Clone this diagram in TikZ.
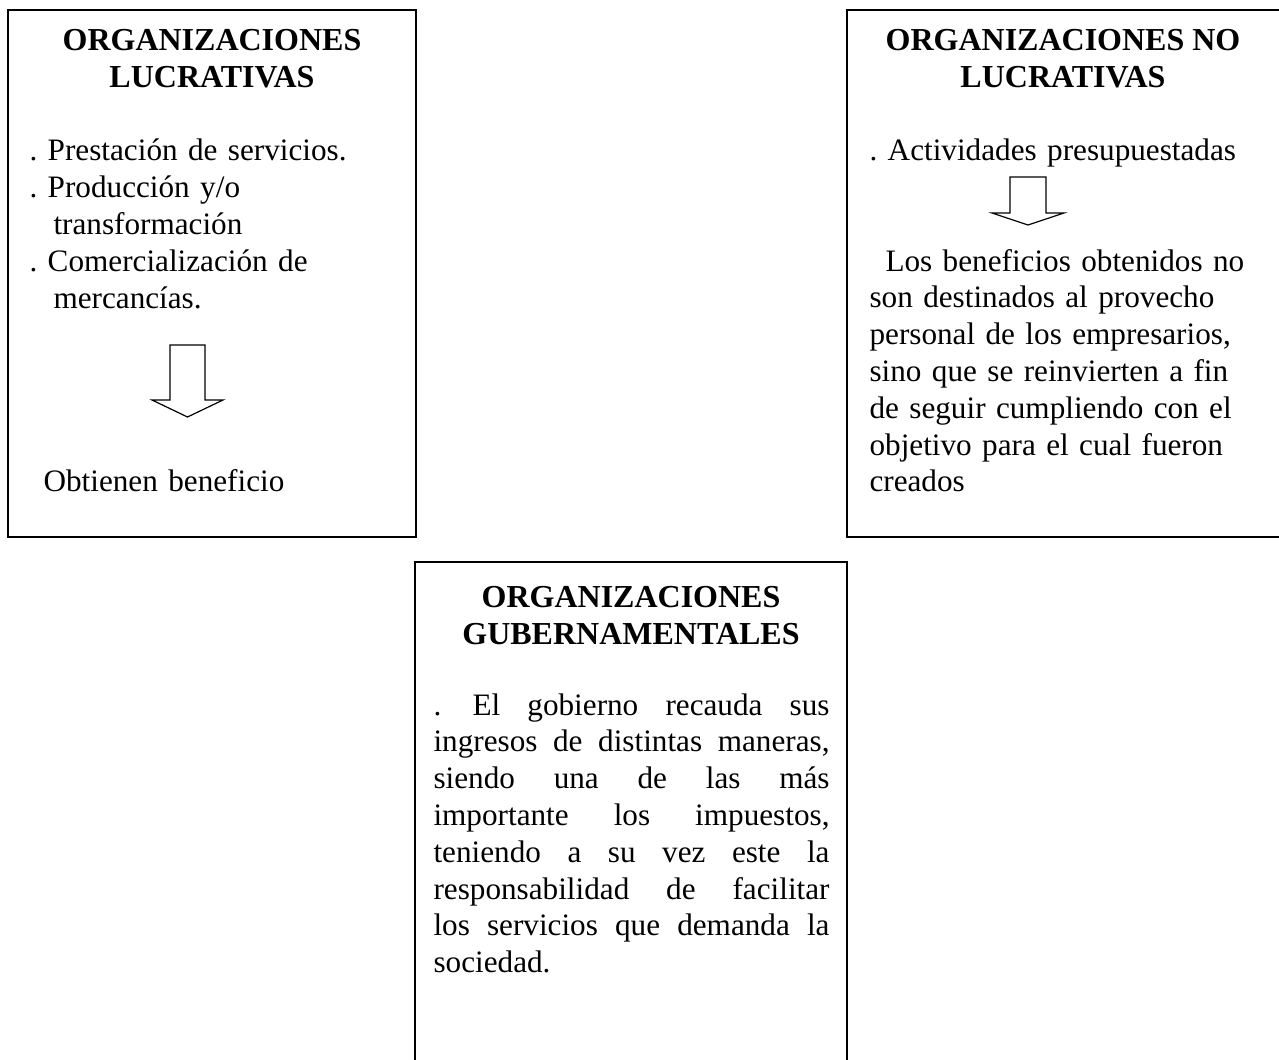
\documentclass[tikz,border=0pt]{standalone}
\usepackage{fontspec}
\setmainfont{Liberation Serif}
\frenchspacing

\tikzset{
  boxline/.style={line width=0.75pt},
  blockarrow/.style={line width=0.45pt},
  titletext/.style={font=\fontsize{12}{13.8}\selectfont\bfseries, align=center, inner sep=0pt, anchor=base},
  bodytext/.style={font=\fontsize{11.7}{13.8}\selectfont, inner sep=0pt, anchor=base west, text width=#1}
}

\begin{document}
\begin{tikzpicture}[x=0.375pt,y=-0.375pt]
    \useasboundingbox (0,0) rectangle (1279,1059);
    % boxes
    \draw [boxline] (8,10) rectangle (416,537);
    \draw [boxline] (847,10) rectangle (1282,537);
    \draw [boxline] (415,1075) -- (415,562) -- (847,562) -- (847,1075);
    % titles (base = last line)
    \node [titletext] (lucr) at (212,87.5) {ORGANIZACIONES\\LUCRATIVAS};
    \node [titletext] (nolucr) at (1063,87.5) {ORGANIZACIONES NO\\LUCRATIVAS};
    \node [titletext] (gub) at (631,644) {ORGANIZACIONES\\GUBERNAMENTALES};
    % lucrativas
    \node [bodytext=160pt, align=left] (lucrlist) at (29,161) {. Prestación de servicios.\\. Producción y/o\\\hspace*{9pt}transformación\\. Comercialización de\\\hspace*{9pt}mercancías.};
    \draw [blockarrow] (170,345) -- (205,345) -- (205,400) -- (223,400) -- (187.5,417) -- (152,400) -- (170,400) -- cycle;
    \node [bodytext=160pt] (lucrfin) at (43,491.5) {Obtienen beneficio};
    % no lucrativas
    \node [bodytext=155pt] (nolucract) at (869,161) {. Actividades presupuestadas};
    \draw [blockarrow] (1010,177) -- (1046,177) -- (1046,213) -- (1064,213) -- (1028,225) -- (992,213) -- (1010,213) -- cycle;
    \node [bodytext=155pt, align=left] (nolucrfin) at (869,271) {\hspace*{6pt}Los beneficios obtenidos no\\son destinados al provecho\\personal de los empresarios,\\sino que se reinvierten a fin\\de seguir cumpliendo con el\\objetivo para el cual fueron\\creados};
    % gubernamentales
    \node [bodytext=148.5pt, align=justify] (gubtext) at (433,715) {.\hspace{1.5pt} El gobierno recauda sus\linebreak ingresos de distintas maneras,\linebreak siendo una de las más\linebreak importante los impuestos,\linebreak teniendo a su vez este la\linebreak responsabilidad de facilitar\linebreak los servicios que demanda la\linebreak sociedad.};
\end{tikzpicture}
\end{document}
